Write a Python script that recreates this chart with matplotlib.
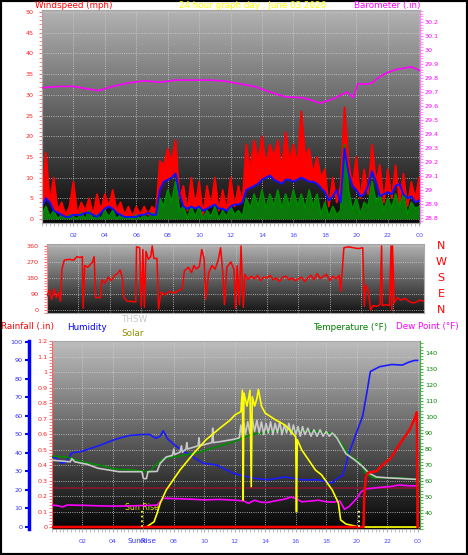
import numpy as np
import matplotlib.pyplot as plt
import matplotlib.transforms as mtransforms
from matplotlib.patches import Rectangle
from matplotlib.ticker import MultipleLocator, FormatStrFormatter

W, H = 468, 555

# ---- wind speed (mph), one value every 15 minutes from 00:00 to 24:00
wind_hours = np.arange(0, 24.01, 0.25)
wind_gust = [5, 16, 4, 10, 2, 4, 1, 3, 9, 1, 4, 2, 5, 1, 6, 2,
             6, 3, 7, 2, 4, 1, 3, 0.5, 3, 1, 3, 1, 3, 2, 14, 13,
             17, 14, 19, 5, 8, 2, 10, 3, 9, 1, 8, 3, 10, 2, 7, 2,
             10, 3, 8, 4, 18, 12, 19, 14, 20, 13, 18, 15, 19, 12, 21, 14,
             18, 13, 26, 15, 17, 11, 15, 10, 12, 3, 10, 4, 8, 27, 14, 8,
             15, 5, 12, 6, 18, 9, 13, 4, 12, 5, 13, 4, 11, 3, 9, 5,
             10]
wind_avg = [3, 5, 4, 2, 1.5, 1, 0.5, 0.5, 1, 1, 1, 1.5, 1.5, 1, 0.5, 1.5,
            2.5, 3, 2.5, 1.5, 1, 0.5, 0.5, 0.5, 0.5, 1, 1, 1.5, 1, 1, 7, 9,
            9.5, 10, 11, 6, 3, 2.5, 3, 2.5, 3, 2, 2.5, 3, 3.5, 2.5, 2.5, 2,
            3, 3.5, 3.5, 4, 7, 7.5, 8, 8.5, 9.5, 10, 10.5, 9.5, 9, 8.5, 9.5, 9.5,
            9, 9.5, 10, 9.5, 9, 9, 8.5, 7.5, 6.5, 4.5, 5.5, 7, 4, 17, 11, 8,
            7, 5.5, 6, 8, 11.5, 9, 5.5, 6, 6.5, 6, 8, 8.5, 6, 5, 5.5, 4,
            4.5]
wind_speed = [1, 3, 0.5, 2, 0, 1, 0, 1, 0.5, 0, 1.5, 0, 2, 0, 1, 0,
              2, 0.5, 2, 0, 1, 0, 0.5, 0, 1, 0, 1, 0, 1.5, 0.5, 5, 3,
              7, 4, 9, 2, 3, 0, 3, 0.5, 3, 0, 2, 0.5, 3, 0, 2, 0.5,
              3, 1, 2, 0.5, 5, 2.5, 6, 3, 7, 2.5, 6, 3, 7, 2.5, 6, 3,
              7, 3, 6, 2.5, 7, 3, 6, 1, 4, 0.5, 3, 1, 2, 18, 7, 2,
              5, 1, 4, 3, 9, 4, 6, 2, 5, 2.5, 6, 3, 6, 1, 4, 2.5,
              3]

# ---- barometer (in)
baro_hours = [0, 1, 2, 3, 3.6, 4.5, 5.5, 6.5, 7.5, 8.5, 9.5, 10.5, 11.5, 12.5, 13.5,
              14.5, 15.5, 16.5, 17.2, 17.7, 18.5, 19.4, 19.8, 20.1, 20.6, 21.0, 21.5,
              22.0, 22.5, 23.0, 23.5, 24.0]
baro = [29.73, 29.74, 29.74, 29.72, 29.71, 29.74, 29.765, 29.78, 29.77, 29.785, 29.785,
        29.785, 29.78, 29.76, 29.74, 29.70, 29.665, 29.66, 29.64, 29.62, 29.65, 29.70,
        29.66, 29.76, 29.755, 29.765, 29.81, 29.84, 29.86, 29.87, 29.88, 29.855]

# ---- wind direction (degrees)
dir_hours = [0.0, 0.15, 0.3, 0.45, 0.6, 0.75, 0.85, 0.95, 1.1, 1.4,
             1.7, 1.9, 2.1, 2.25, 2.3, 2.4, 2.6, 2.9, 3.0, 3.1,
             3.4, 3.5, 3.7, 3.9, 4.1, 4.3, 4.5, 4.65, 4.8, 4.9,
             5.1, 5.5, 5.65, 5.7, 5.9, 6.0, 6.1, 6.2, 6.3, 6.45,
             6.6, 6.7, 6.8, 7.0, 7.1, 7.25, 7.5, 7.8, 8.1, 8.4,
             8.6, 8.75, 9.0, 9.2, 9.35, 9.5, 9.7, 9.85, 10.0, 10.1,
             10.3, 10.5, 10.7, 10.9, 11.05, 11.2, 11.3, 11.45, 11.7, 11.9,
             12.0, 12.1, 12.25, 12.35, 12.5,
             12.6, 12.8, 13.0, 13.2, 13.4, 13.6, 13.8, 14.0, 14.2, 14.4,
             14.6, 14.8, 15.0, 15.2, 15.4, 15.6, 15.8, 16.0, 16.2, 16.4,
             16.6, 16.8, 17.0, 17.2, 17.4, 17.6, 17.8, 18.0, 18.2, 18.4, 18.6,
             18.7, 18.9, 19.2, 19.5, 19.8, 20.1, 20.2, 20.3, 20.45, 20.6,
             20.75, 21.0, 21.2, 21.3, 21.35, 21.6, 21.8, 21.9, 21.95, 22.0,
             22.1, 22.3, 22.5, 22.8, 23.1, 23.4, 23.7, 24.0]
wind_dir = [80, 110, 60, 120, 70, 100, 50, 230, 280, 285,
            280, 300, 295, 300, 10, 250, 240, 270, 300, 70,
            70, 170, 150, 185, 165, 195, 205, 225, 180, 70,
            50, 47, 45, 355, 350, 20, 340, 15, 330, 285,
            300, 360, 290, 290, 5, 100, 85, 105, 95, 110,
            120, 220, 240, 210, 250, 230, 245, 340, 290, 60,
            210, 250, 230, 280, 350, 200, 30, 240, 270, 230,
            10, 250, 30, 360, 15,
            200, 170, 190, 175, 195, 165, 185, 180, 195, 170,
            180, 160, 185, 190, 170, 180, 165, 175, 185, 160,
            180, 195, 170, 205, 175, 190, 200, 165, 190, 175, 195,
            105, 350, 355, 350, 345, 350, 20, 140, 110, 0,
            25, 20, 30, 360, 25, 30, 25, 360, 0, 360,
            40, 70, 55, 65, 45, 40, 55, 50]

# ---- humidity (%)
hum_hours = [0, 0.3, 0.6, 0.9, 1.3, 2.0, 3.1, 4.2, 5.1, 6.0, 6.4, 6.8, 7.1, 7.3, 7.6,
             8.1, 8.6, 9.05, 9.9, 10.8, 11.9, 13.1, 14.2, 15.3, 16.4, 17.5, 18.4, 18.6,
             19.1, 19.5, 19.9, 20.4, 20.7, 20.9, 21.5, 22.3, 23.0, 23.4, 23.8, 24.0]
humidity = [38, 37, 34.5, 35, 40, 41, 44, 47.5, 49.5, 50, 50, 48, 49, 52, 47.5,
            44, 41, 39, 34.5, 33.5, 29, 26.5, 25.5, 27, 25.5, 25.5, 23.7, 25.5,
            28, 40, 49, 60, 74, 84, 86.6, 87.8, 87.5, 89, 90, 90]

# ---- temperature, THSW, dew point (F)
temp_hours = [0, 1.0, 1.3, 2.0, 3.1, 4.2, 5.3, 6.2, 6.5, 6.9, 7.3, 8.6, 9.7, 10.8, 11.9,
              13.0, 14.1, 15.2, 16.3, 17.3, 18.4, 18.8, 19.1, 19.5, 20.2, 20.6, 21.1,
              22.0, 22.8, 24.0]
temperature = [75.5, 75, 74, 72, 70, 67.3, 67, 65.8, 66.5, 71, 74, 76, 78, 81.4, 84.4,
               88.7, 90.8, 91.5, 91.8, 91, 89.8, 86, 82.5, 76, 72, 64.8, 62,
               62, 62, 61]
thsw_hours = [0, 1.2, 1.3, 1.5, 2.0, 2.3, 3.0, 4.4, 5.9, 6.0, 6.2, 6.3, 6.9, 7.1, 7.5,
              7.9, 8.0, 8.05, 8.4, 8.5, 8.55, 8.8, 8.85, 8.9, 9.6, 9.65, 9.7, 10.5,
              10.55, 10.6, 11.3, 11.9, 12.3, 12.4, 12.5, 12.6, 12.7, 12.85, 13.0, 13.15,
              13.3, 13.45, 13.6, 13.75, 13.9, 14.05, 14.2, 14.35, 14.5, 14.65, 14.8,
              14.95, 15.1, 15.25, 15.4, 15.55, 15.7, 15.85, 16.0, 16.15, 16.3, 16.45,
              16.6, 16.8, 17.0, 17.2, 17.4, 17.6, 17.8, 18.0, 18.2, 18.4, 18.7, 19.0,
              19.3, 19.9, 20.4, 20.8, 21.3, 22.0, 23.0, 24.0]
thsw = [73, 72, 74, 72, 71, 70.5, 68, 65.8, 65.8, 61.5, 61.5, 65.8, 66, 71, 75,
        76, 80, 76.5, 78, 82, 78, 80, 84, 80, 82, 87, 82, 84,
        93, 84, 85, 86, 87, 95, 88, 96, 89, 97, 90, 99,
        91, 98, 90, 97, 89, 96, 90, 97, 89, 96, 90,
        97, 89, 95, 90, 96, 89, 95, 89, 94, 88, 94,
        89, 93, 88, 92, 88, 92, 88, 91, 88, 90, 87, 82,
        77, 73, 69, 65, 62.5, 62, 61.5, 61]
dew_hours = [0, 0.4, 0.7, 1.0, 2.0, 3.0, 4.0, 5.3, 6.5, 6.9, 7.3, 8.0, 9.0, 10.0, 11.0,
             12.0, 12.6, 12.9, 13.3, 13.7, 14.1, 14.6, 15.2, 15.7, 16.0, 16.4, 17.0,
             17.5, 18.0, 18.5, 18.9, 19.2, 19.5, 20.0, 20.3, 20.6, 21.5, 22.2, 22.8,
             23.4, 24.0]
dew_point = [45, 44.5, 43.8, 45, 44.8, 44.5, 44.3, 44.5, 44.8, 45, 49.2, 49, 48.7, 48.2, 48.5,
             48, 47.5, 46, 48, 46.8, 46.5, 47.5, 48.5, 50, 49, 47, 47.5,
             48, 47, 46.8, 47.5, 42.3, 44, 49, 53.3, 55, 56, 56.5, 57.5,
             57, 57]

# ---- solar radiation (W/m2)
solar_hours = [0, 6.2, 6.7, 6.9, 7.1, 7.5, 8.4, 9.3, 10.1, 11.0, 11.7, 12.0, 12.4, 12.5,
               12.55, 12.6, 12.8, 13.0, 13.08, 13.15, 13.3, 13.45, 13.55, 13.75, 14.0,
               14.7, 15.3, 16.0, 16.05, 16.1, 16.4, 17.3, 17.7, 18.4, 18.8, 18.95, 19.3,
               19.9, 20.1, 24.0]
solar = [0, 0, 28, 74, 127, 199, 306, 396, 468, 530, 575, 602, 620, 736,
         145, 720, 650, 735, 217, 700, 650, 690, 740, 650, 612,
         575, 548, 485, 82, 470, 414, 306, 280, 199, 129, 38, 16,
         5, 0, 0]

# ---- rainfall (in)
rain_hours = [0, 20.45, 20.5, 20.6, 20.75, 21.3, 21.7, 22.2, 22.6, 23.0, 23.5, 23.85, 23.95, 24.0]
rainfall = [0, 0, 0.2, 0.32, 0.35, 0.36, 0.4, 0.44, 0.5, 0.56, 0.63, 0.71, 0.74, 0]
rain_alarm = 0.25

sunrise_hour = 5.9
sunset_hour = 20.13

hour_ticks = list(range(2, 25, 2))
hour_labels = ['02', '04', '06', '08', '10', '12', '14', '16', '18', '20', '22', '00']
compass_deg = [360, 270, 180, 90, 0]
compass_labels = ['N', 'W', 'S', 'E', 'N']

TICK_FS = 4.6
HEAD_FS = 6.3


def box(left, top, right, bottom):
    """axes placed by pixel edges of the 468x555 picture"""
    return fig.add_axes([left / W, 1 - bottom / H, (right - left) / W, (bottom - top) / H])


def shade(ax, top, bottom):
    g = np.linspace(top, bottom, 256).reshape(-1, 1)
    ax.imshow(g, extent=[0, 1, 0, 1], transform=ax.transAxes, cmap='gray',
              vmin=0, vmax=1, aspect='auto', zorder=0, interpolation='bilinear')


def frame(ax, color='#a8a8a8'):
    for s in ax.spines.values():
        s.set_color(color)
        s.set_linewidth(0.8)


def ftext(x, y, s, color, **kw):
    fig.text(x / W, 1 - y / H, s, color=color, fontsize=kw.pop('fontsize', HEAD_FS),
             va='center', **kw)


fig = plt.figure(figsize=(W / 100, H / 100), dpi=100)
fig.patch.set_facecolor('white')

# ================= wind speed / barometer
ax1 = box(42, 10, 420, 223)
shade(ax1, 0.70, 0.03)
ax1.fill_between(wind_hours, wind_avg, wind_gust, color='#ff0000', lw=0, zorder=3)
ax1.plot(wind_hours, wind_gust, color='#ff0000', lw=1.3, zorder=3)
ax1.fill_between(wind_hours, 0, wind_speed, color='#0a780a', lw=0, zorder=4)
ax1.plot(wind_hours, wind_speed, color='#008a00', lw=1.3, zorder=4)
ax1.plot(wind_hours, wind_avg, color='#1010ff', lw=1.4, zorder=5)
ax1.set_xlim(0, 24.05)
ax1.set_ylim(-0.97, 50.5)
ax1.set_yticks(range(0, 51, 5))
ax1.yaxis.set_minor_locator(MultipleLocator(1))
ax1.set_xticks(hour_ticks)
ax1.set_xticklabels(hour_labels)
ax1.xaxis.set_minor_locator(MultipleLocator(0.25))
ax1.tick_params(axis='y', which='both', colors='#ff7070', labelcolor='#ff2020',
                labelsize=TICK_FS, length=2, pad=4)
ax1.tick_params(axis='x', which='both', colors='#b0b0b0', labelcolor='#4848ff',
                labelsize=TICK_FS, length=2, pad=5)
ax1.grid(True, which='major', color='#d0d0d0', ls=':', lw=0.6)
frame(ax1)
ax1.spines['left'].set_color('#ff8080')

ax1b = ax1.twinx()
ax1b.plot(baro_hours, baro, color='#ff00ff', lw=1.2, zorder=6)
ax1b.set_ylim(28.764, 30.286)
ax1b.set_yticks(np.arange(28.8, 30.25, 0.1))
ax1b.yaxis.set_major_formatter(FormatStrFormatter('%g'))
ax1b.yaxis.set_minor_locator(MultipleLocator(0.02))
ax1b.tick_params(axis='y', which='both', colors='#ff80ff', labelcolor='#ff00ff',
                 labelsize=TICK_FS, length=2, pad=1)
frame(ax1b)
ax1b.spines['right'].set_color('#ff80ff')

ftext(35, 5.5, 'Windspeed (mph)', '#ff0000')
ftext(253, 5.5, '24 hour graph day : June 03 2026', '#ffff00', ha='center')
ftext(421, 5.5, 'Barometer (.in)', '#ff00ff', ha='right')

# ================= wind direction
ax2 = box(47, 244, 424, 313)
shade(ax2, 0.70, 0.08)
ax2.plot(dir_hours, wind_dir, color='#ff0000', lw=1.1, zorder=3)
ax2.set_xlim(0, 24)
ax2.set_ylim(-16.9, 371)
ax2.set_yticks([0, 90, 180, 270, 360])
ax2.yaxis.set_minor_locator(MultipleLocator(15))
ax2.set_xticks(hour_ticks)
ax2.tick_params(axis='x', labelbottom=False, length=0)
ax2.tick_params(axis='y', which='both', colors='#ff7070', labelcolor='#ff2020',
                labelsize=TICK_FS, length=2, pad=4)
ax2.grid(True, which='major', color='#d0d0d0', ls=':', lw=0.6)
frame(ax2)
ax2.spines['left'].set_color('#ff8080')
trans = mtransforms.blended_transform_factory(ax2.transAxes, ax2.transData)
for deg, lab in zip(compass_deg, compass_labels):
    ax2.text(1.045, deg, lab, transform=trans, color='#ff0000', fontsize=8,
             ha='center', va='center', clip_on=False)

# ================= rain / humidity / temperature
ax3 = box(52, 341, 420, 529)
shade(ax3, 0.74, 0.02)
ax3.set_xlim(0, 24.16)
ax3.set_ylim(-0.0129, 1.2)
ax3.set_yticks(np.arange(0, 1.21, 0.1))
ax3.yaxis.set_major_formatter(FormatStrFormatter('%g'))
ax3.yaxis.set_minor_locator(MultipleLocator(0.02))
ax3.set_xticks(hour_ticks)
ax3.set_xticklabels(hour_labels)
ax3.xaxis.set_minor_locator(MultipleLocator(0.25))
ax3.tick_params(axis='y', which='both', colors='#ff7070', labelcolor='#ff2020',
                labelsize=TICK_FS, length=2, pad=1)
ax3.tick_params(axis='x', which='both', colors='#b0b0b0', labelcolor='#4848ff',
                labelsize=TICK_FS, length=2, pad=5)
ax3.grid(True, which='major', color='#d0d0d0', ls=':', lw=0.6)
ax3.axhline(rain_alarm, color='#7a1a30', lw=1.4, zorder=2)
frame(ax3)
ax3.spines['left'].set_color('#ff6060')

ax3h = ax3.twinx()
ax3h.plot(hum_hours, humidity, color='#1a1aff', lw=1.2, zorder=3)
ax3h.set_ylim(-1.08, 100.5)
ax3h.yaxis.tick_left()
ax3h.spines['left'].set_position(('outward', 16.5))
ax3h.spines['left'].set_visible(True)
for s in ['right', 'top', 'bottom']:
    ax3h.spines[s].set_visible(False)
ax3h.spines['left'].set_color('#0000ff')
ax3h.spines['left'].set_linewidth(2.5)
ax3h.set_yticks(range(0, 101, 10))
ax3h.tick_params(axis='y', colors='#0000ff', labelcolor='#3030ff',
                 labelsize=TICK_FS, length=3, width=1.5, pad=1.5)

ax3t = ax3.twinx()
ax3t.plot(temp_hours, temperature, color='#008a00', lw=1.2, zorder=3)
ax3t.plot(thsw_hours, thsw, color='#c8c8c8', lw=1.2, zorder=4)
ax3t.plot(dew_hours, dew_point, color='#ff00ff', lw=1.2, zorder=5)
ax3t.set_ylim(30, 147.5)
ax3t.set_yticks(range(40, 141, 10))
ax3t.yaxis.set_minor_locator(MultipleLocator(2))
ax3t.tick_params(axis='y', which='both', colors='#40b040', labelcolor='#008000',
                 labelsize=TICK_FS, length=2, pad=1.5)
for s in ['left', 'top', 'bottom']:
    ax3t.spines[s].set_visible(False)
ax3t.spines['right'].set_color('#40b040')

ax3s = ax3.twinx()
ax3s.plot(solar_hours, solar, color='#ffff00', lw=1.2, zorder=3)
ax3s.set_ylim(-10.75, 1000)
ax3s.axis('off')

ax3r = ax3.twinx()
ax3r.plot(rain_hours, rainfall, color='#ff0000', lw=1.8, zorder=3)
ax3r.vlines([sunrise_hour], 0, 0.11, colors='#ffff00', linestyles=':', lw=1.3, zorder=4)
ax3r.vlines([sunset_hour], 0, 0.11, colors='#ffff90', linestyles=':', lw=1.3, zorder=4)
ax3r.set_ylim(-0.0129, 1.2)
ax3r.axis('off')

ax3.text(sunrise_hour, 0.128, 'Sun Rise', color='#e8e800', fontsize=5.6,
         ha='center', va='center', zorder=6)
tb = mtransforms.blended_transform_factory(ax3.transData, ax3.transAxes)
ax3.text(sunrise_hour, -0.064, 'SunRise', transform=tb, color='#3030ff', fontsize=5.2,
         ha='center', va='center', clip_on=False)

ftext(1, 327, 'Rainfall (.in)', '#ff0000')
ftext(67, 327, 'Humidity', '#0000ff')
ftext(121, 319, 'THSW', '#c8c8c8')
ftext(121, 333, 'Solar', '#8c8c00')
ftext(313, 327, 'Temperature (\u00b0F)', '#008000')
ftext(396, 327, 'Dew Point (\u00b0F)', '#ff00ff')

fig.patches.append(Rectangle((0, 0), 1, 1, transform=fig.transFigure, fill=False,
                             lw=3, ec='black'))

fig.savefig('out.png', dpi=100)
